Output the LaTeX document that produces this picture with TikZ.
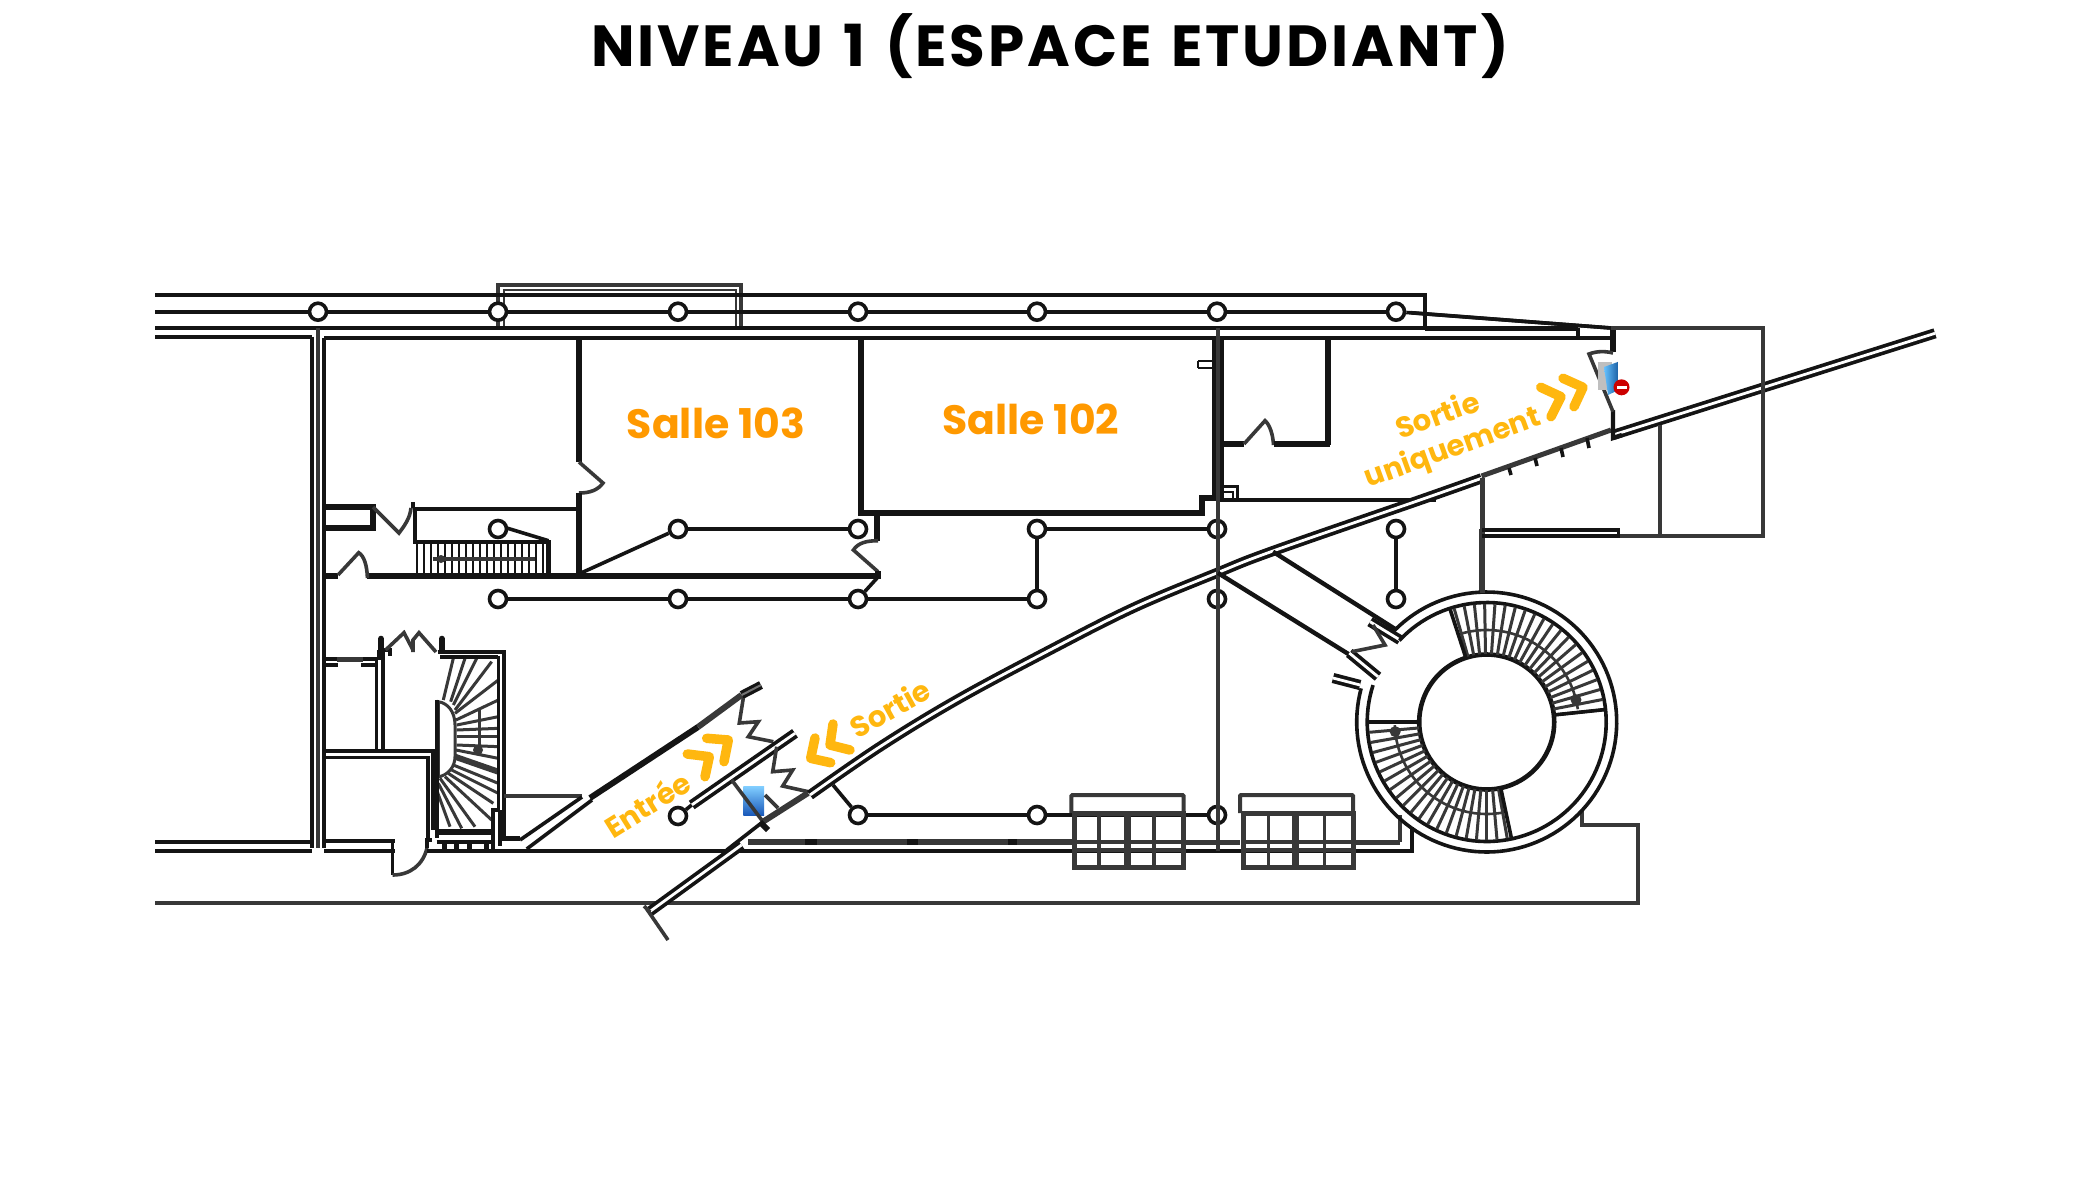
\documentclass[tikz,border=0pt]{standalone}
\usepackage{fontspec}
\newfontfamily\pop{Poppins}
\newfontfamily\popt{Poppins}[LetterSpace=5,WordSpace=1.3]
\definecolor{ink}{HTML}{141414}
\definecolor{gry}{HTML}{383838}
\definecolor{orng}{HTML}{FF9900}
\definecolor{yell}{HTML}{FFB70F}
\tikzset{
  w3/.style={draw=ink,line width=3.6pt},
  w4/.style={draw=ink,line width=4.4pt},
  w5/.style={draw=ink,line width=6pt},
  g3/.style={draw=gry,line width=3.6pt},
  g4/.style={draw=gry,line width=5pt},
  thin2/.style={draw=ink,line width=2.6pt},
  dbl/.style={draw=ink,line width=3.7pt,double=white,double distance=2.8pt},
  post/.style={circle,draw=ink,line width=3.6pt,fill=white,minimum size=17pt,inner sep=0pt},
  hollow/.style={circle,draw=ink,line width=3.6pt,minimum size=17pt,inner sep=0pt},
  chev/.style={draw=yell,line width=9.5pt,line cap=round,line join=round},
  roomlabel/.style={text=orng,font=\pop\bfseries\fontsize{41}{48}\selectfont},
  yl/.style={text=yell,font=\pop\bfseries\fontsize{29}{34}\selectfont},
  titletext/.style={text=black,font=\popt\bfseries\fontsize{58}{62}\selectfont}
}
\begin{document}
\begin{tikzpicture}[x=1pt,y=-1pt,line cap=butt,line join=miter]
\useasboundingbox (0,0) rectangle (2100,1200);
\fill[white] (0,0) rectangle (2100,1200);
\node[titletext] (title) at (1050,46) {NIVEAU 1 (ESPACE ETUDIANT)};
% top box
\draw[g3] (498,328) -- (498,285) -- (741,285) -- (741,328);
\draw[g3,line width=2pt] (504,328) -- (504,290) -- (736,290) -- (736,328);
% top lines
\draw[w3] (155,295) -- (1425,295) -- (1425,328);
\draw[w3] (155,328) -- (1578,328);
\draw[w3] (155,336.7) -- (312,336.7);
\draw[w3] (324,337.7) -- (1611,337.7);
\draw[w3] (1578,328) -- (1578,338);
% top row of posts
\node[post] (a1) at (318,311.7) {};
\node[post] (a2) at (498,311.7) {};
\node[post] (a3) at (678,311.7) {};
\node[post] (a4) at (858,311.7) {};
\node[post] (a5) at (1037,311.7) {};
\node[post] (a6) at (1217,311.7) {};
\node[post] (a7) at (1396,311.7) {};
\coordinate (aL) at (155,311.7);
\coordinate (aR) at (1611,328);
\draw[w3] (aL) -- (a1); \draw[w3] (a1) -- (a2); \draw[w3] (a2) -- (a3); \draw[w3] (a3) -- (a4);
\draw[w3] (a4) -- (a5); \draw[w3] (a5) -- (a6); \draw[w3] (a6) -- (a7); \draw[w3] (a7) -- (aR);
% middle posts
\node[post] (b1) at (498,529) {};
\node[post] (b2) at (678,529) {};
\node[post] (b3) at (858,529) {};
\node[post] (b4) at (1037,529) {};
\node[post] (b5) at (1396,529) {};
\node[post] (c1) at (498,599) {};
\node[post] (c2) at (678,599) {};
\node[post] (c3) at (858,599) {};
\node[post] (c4) at (1037,599) {};
\node[post] (c5) at (1396,599) {};
\node[post] (d1) at (678,816) {};
\node[post] (d2) at (858,815) {};
\node[post] (d3) at (1037,815) {};
\draw[w3] (b2) -- (b3); \draw[w3] (c1) -- (c2); \draw[w3] (c2) -- (c3); \draw[w3] (c3) -- (c4);
\draw[w3] (b4) -- (c4); \draw[w3] (b5) -- (c5);
\draw[w3] (b4) -- (1209,529);
\draw[w3] (d2) -- (d3); \draw[w3] (d3) -- (1209,815);
\draw[w3] (833,785) -- (d2);
\draw[w3] (581,573) -- (b2);
% long walls left
\draw[w3] (312,336.7) -- (312,848);
\draw[g3] (318,328) -- (318,848);
\draw[w3] (324,337.7) -- (324,848);
% room walls
\draw[w5] (579,338) -- (579,462);
\draw[g3] (579,462) -- (603,483) .. controls (598,490) and (590,493) .. (579,493);
\draw[w5] (579,493) -- (579,575);
\draw[w5] (367,575.7) -- (878,575.7);
\draw[w5] (324,575.7) -- (338,575.7);
\draw[g3] (338,575) -- (358.7,552.7) .. controls (364,556) and (367,565) .. (367.4,578);
\draw[w5] (324,507) -- (373,507) -- (373,528) -- (324,528);
\draw[g3] (373,507) -- (399,533) .. controls (405,525) and (410,518) .. (411,508);
\draw[w4] (413,509) -- (579,509);
\draw[w5] (411,505) -- (415,505);
\draw[w4] (415,509) -- (415,541.7) -- (548.5,541.7) -- (548.5,573);
\draw[w3] (507.7,528.3) -- (548.5,540.7);
% straight stair
\foreach \sx in {417,424,431,438,445,452,459,466,473,480,487,494,501,508,515,522,529,536,543}{
  \draw[thin2] (\sx,543) -- (\sx,573);}
\draw[g3] (432.6,559) -- (535,559);
\fill[gry] (441,559) circle[radius=4pt];
% room 102 etc
\draw[w5] (861,338) -- (861,512.7) -- (1202,512.7) -- (1202,497.7) -- (1216,497.7);
\draw[w5] (1214.5,338) -- (1214.5,498);
\draw[w3] (1222,338) -- (1222,499);
\draw[thin2] (1198,361) -- (1214,361) (1198,368) -- (1214,368) (1198,361) -- (1198,368);
\draw[w5] (1328,338) -- (1328,445);
\draw[w5] (1223,444) -- (1244,444);
\draw[g3] (1244,444) -- (1265,420.7) .. controls (1270,425) and (1273,435) .. (1273.5,445);
\draw[w5] (1273.5,444) -- (1330,444);
\draw[thin2] (1223,486.7) -- (1237.7,486.7) -- (1237.7,499.3);
\draw[thin2] (1223,492) -- (1233,492) -- (1233,499);
\draw[w3] (1219,500) -- (1436,500);
% door next to room 103 bottom
\draw[w5] (876.6,514) -- (876.6,540.7);
\draw[g3] (878,540.7) .. controls (866,540.7) and (858,543) .. (853.4,550) -- (878,571.7);
\draw[w5] (878,571) -- (878,579);
\draw[w3] (878,577) -- (c3);
% lower-left rooms
\draw[w3] (324,659) -- (337,659);
\draw[g4] (337,659) -- (363,659);
\draw[w3] (363,659) -- (377,659);
\draw[w3] (324,665) -- (338,665) (361,665) -- (377,665);
\draw[w3] (376.5,659) -- (376.5,751.7);
\draw[w3] (383,650) -- (383,751.7);
\draw[w3] (379,650) -- (379,660) (379,650) -- (390,650) -- (390,656);
\draw[w3] (324,751) -- (436.7,751);
\draw[w3] (324,757.5) -- (428,757.5) -- (428,840);
\draw[w3] (433,751) -- (433,830);
\draw[w3] (324,840.7) -- (395,840.7);
\draw[w3] (392.5,840.7) -- (392.5,875);
\draw[g3] (392.5,875) .. controls (410,875) and (423,865) .. (427,848);
\draw[w3] (427,848) -- (427,840) -- (432,840);
\draw[w5,line cap=round] (381,638.7) -- (381,650);
\draw[w5,line cap=round] (441.7,638.7) -- (441.7,650);
\draw[g3] (385.6,650) -- (404,632.7) -- (413,650) (413,652) -- (413,640) -- (419,632.7) -- (436,652);
% spiral stair, left
\foreach \ax/\ay/\ex/\ey in {
 92/215/135/85, 100/225/170/85, 105/240/215/95, 105/250/235/150, 108/270/235/210,
 110/285/235/260, 110/300/235/295, 110/320/235/320, 110/345/235/350, 108/360/235/385,
 100/405/235/460, 95/420/235/490, 85/430/220/520, 75/440/215/570, 60/445/165/590,
 55/460/125/595, 50/480/90/590}{
  \draw[g3,line width=3pt] ({420+\ax/3},{630+\ay/3}) -- ({420+\ex/3},{630+\ey/3});}
\draw[g3,line width=6pt] (455,756.7) -- (498.3,771.7);
\draw[g3,line width=3pt] (453.3,658.3) -- (443.3,700);
\draw[g3,line width=3pt,fill=white] (438.3,701.7) .. controls (448,703) and (455,712) .. (455,725) -- (455,756.7) .. controls (455,767) and (448,775) .. (438.3,777) -- cycle;
\draw[g3,line width=2.6pt] (479.3,708) -- (479.3,753);
\fill[gry] (478,750) circle[radius=5pt];
\draw[w3] (436.7,700) -- (436.7,838);
\draw[w4] (438,651.7) -- (504,651.7);
\draw[w3] (440,656.7) -- (498.3,656.7);
\draw[w3] (498.3,656) -- (498.3,810) -- (492.7,810) -- (492.7,850);
\draw[w3] (500,810) -- (500,846);
\draw[w4] (504,650) -- (504,838.3) -- (520,838.3);
\draw[w5] (436.7,832.3) -- (491.7,832.3);
\draw[w3] (436.7,841.7) -- (491.7,841.7);
\foreach \sx in {444,456,469,486.7}{\draw[w4,line width=5pt] (\sx,842) -- (\sx,850);}
% bottom lines
\draw[w3] (155,841.7) -- (312,841.7);
\draw[w3] (155,850.7) -- (312,850.7);
\draw[w3] (324,850.7) -- (395,850.7);
\draw[w3] (427,850.7) -- (1411.7,850.7) -- (1411.7,826.7);
\draw[g4,line width=5.5pt] (748,842) -- (1072,842);
\draw[w5] (805,842) -- (817,842) (906.7,842) -- (918,842) (1008,842) -- (1017,842);
\draw[g4] (1183,842) -- (1240,842) (1353,842) -- (1400,842);
\draw[g3] (1400,815) -- (1400,842);
% bottom outer
\draw[g3] (1581.7,810) -- (1581.7,825) -- (1638,825) -- (1638,903) -- (155,903);
% diagonal entry walls
\draw[g3] (504,795.7) -- (582,795.7);
\draw[w3] (520,840) -- (582,797);
\draw[w3] (526.7,849) -- (592,800);
\draw[w5] (590,798) -- (698,727);
\draw[g4,line width=6pt] (698,727) -- (741.5,695);
\draw[draw=ink,line width=3.2pt,double=gry!70,double distance=2pt] (741.7,695) -- (761,685);
\draw[g3] (743.3,698) -- (739.3,723) -- (758.3,721.7) -- (748.3,736.7) -- (773.3,741.7);
\draw[dbl] (691.7,805) -- (795,733.3);
\draw[w3] (d1) -- (691.7,805);
\draw[g3] (776.7,746.7) -- (772.7,771.7) -- (792.7,770) -- (782.7,786) -- (808.3,791.7);
% long curved wall
\draw[dbl] (649.6,911.7) -- (741.5,845);
\draw[w3] (726.7,850) -- (763,821.7);
\draw[g4,line width=6pt] (763,821.7) -- (808,793);
\draw[dbl] plot[smooth,tension=0.6] coordinates {(810,795) (880,746.7) (956.7,700) (1046.7,651.7) (1133,608) (1216.7,573) (1273,551) (1420,500) (1481.5,478.3)};
\draw[g4] (1481.5,476) -- (1611,430);
\draw[dbl] (1613,435) -- (1935,333.3);
\draw[w4] (1613,410) -- (1613,438) -- (1622,435);
\draw[g3] (650,912) -- (644,906) (646,908) -- (668,940);
\foreach \tx/\ty/\ux/\uy in {1509/468/1511/475,1535/458/1537/466,1561/448/1563/457,1587/438/1589/448}{
  \draw[w3] (\tx,\ty) -- (\ux,\uy);}
% vertical grey line through column 6
\node[hollow] (e1) at (1217,529) {};
\node[hollow] (e2) at (1217,599) {};
\node[hollow] (e3) at (1217,815) {};
\draw[g3,line width=4pt] (1218,328) -- (1218,851);
% stair corridor to the round stair
\draw[w4] (1273,551.7) -- (1396.7,630);
\draw[w4] (1218,573) -- (1350,655);
\draw[dbl] (1370,621.7) -- (1400,640);
\draw[dbl] (1349.3,653) -- (1378,676.7);
\draw[g3] (1373,625) -- (1385,645) -- (1351.7,651.7);
\draw[dbl] (1333,678) -- (1360,685);
% round stair
\def\cx{1486.7}\def\cy{722}
\draw[g4] (1481.7,529) -- (1481.7,592.7);
\draw[w3] plot[domain=-195:135,samples=120] ({\cx+130*cos(\x)},{\cy-130*sin(\x)});
\draw[w3] plot[domain=-198:137,samples=120] ({\cx+119.5*cos(\x)},{\cy-119.5*sin(\x)});
\draw[w4,line width=4.6pt] plot[domain=0:360,samples=120] ({\cx+67.5*cos(\x)},{\cy-67.5*sin(\x)});
\foreach \a in {6,11,...,108}{
  \draw[g3,line width=3pt] ({\cx+68*cos(\a)},{\cy-68*sin(\a)}) -- ({\cx+118*cos(\a)},{\cy-118*sin(\a)});}
\foreach \a in {180,185,...,282}{
  \draw[g3,line width=3pt] ({\cx+68*cos(\a)},{\cy-68*sin(\a)}) -- ({\cx+118*cos(\a)},{\cy-118*sin(\a)});}
\draw[g3,line width=2.6pt] plot[domain=8:106,samples=40] ({\cx+92*cos(\x)},{\cy-92*sin(\x)});
\draw[g3,line width=2.6pt] plot[domain=182:280,samples=40] ({\cx+92*cos(\x)},{\cy-92*sin(\x)});
\draw[w3] ({\cx+68*cos(6)},{\cy-68*sin(6)}) -- ({\cx+118*cos(6)},{\cy-118*sin(6)});
\draw[w3] ({\cx+68*cos(108)},{\cy-68*sin(108)}) -- ({\cx+118*cos(108)},{\cy-118*sin(108)});
\draw[w3] ({\cx+68*cos(180)},{\cy-68*sin(180)}) -- ({\cx+118*cos(180)},{\cy-118*sin(180)});
\draw[w3] ({\cx+68*cos(282)},{\cy-68*sin(282)}) -- ({\cx+118*cos(282)},{\cy-118*sin(282)});
\fill[gry] ({\cx+92*cos(14)},{\cy-92*sin(14)}) circle[radius=5.5pt];
\fill[gry] ({\cx+92*cos(186)},{\cy-92*sin(186)}) circle[radius=5.5pt];
% window units
\foreach \lx/\rx/\mx/\ca/\cb in {1071.4/1183.6/1127.5/1099/1154,1240/1353/1295.4/1268.6/1324.6}{
  \draw[g4,line width=4pt,rounded corners=1pt] (\lx,813) -- (\lx,795) -- (\rx,795) -- (\rx,813);
  \draw[g4] (\lx+3,813) rectangle (\rx,867);
  \draw[g4,line width=6.5pt] (\mx,813) -- (\mx,867);
  \draw[g3] (\ca,813) -- (\ca,867) (\cb,813) -- (\cb,867);
  \draw[g3] (\lx+3,841.7) -- (\rx,841.7) (\lx+3,850) -- (\rx,850);
}
% right block
\draw[w3] (1411,312.7) -- (1611,328);
\draw[w3] (1425,329) -- (1578,329);
\draw[w3] (1578,338) -- (1613,338);
\draw[w5] (1613,328) -- (1613,352);
\draw[g3] (1611,328) -- (1763,328) -- (1763,536) -- (1618.5,536);
\draw[g3] (1660,425) -- (1660,536);
\draw[g4] (1482,478) -- (1482,593);
\draw[w3] (1482,530) -- (1618.5,530) -- (1618.5,536) -- (1482,536);
\draw[g3] (1613,353) .. controls (1605,351) and (1597,351) .. (1589,354) -- (1613,411.7);
% door icons
\fill[gray!50] (1598,362) rectangle (1612,390);
\shade[left color=blue!40!cyan!60,right color=blue!50!cyan!60!black!90] (1604,367) -- (1618.5,361.7) -- (1618.5,390) -- (1608,395) -- cycle;
\fill[red!80!black] (1621.5,387.3) circle[radius=8pt];
\fill[white] (1616.5,385.5) rectangle (1626.5,389);
\shade[top color=blue!40!cyan!50,bottom color=blue!60!cyan!70!black!90] (743.3,786.7) rectangle (764,815);
\draw[g3] (731.7,780) -- (763,821.7);
\draw[g3] (765,795) -- (778,808);
\draw[w5] (760,822) -- (768,830);
% chevrons
\draw[chev] (687.3,754) -- (709.3,756.7) -- (705,776.7);
\draw[chev] (706.7,738.3) -- (728.3,740) -- (724,761.7);
\draw[chev] (833,724) -- (830,745) -- (850,750);
\draw[chev] (815,738) -- (810.7,758.3) -- (830.7,762.7);
\draw[chev] (1540.7,387.3) -- (1561,396.7) -- (1551,416.7);
\draw[chev] (1563,378.3) -- (1583,387.3) -- (1574,406.7);
% labels
\node[roomlabel] (s103) at (716,423) {Salle 103};
\node[roomlabel] (s102) at (1031,419) {Salle 102};
\node[yl,rotate=32] (entree) at (647,804) {Entrée};
\node[yl,rotate=29] (sortie) at (890,708) {Sortie};
\node[yl,rotate=20] (sortie2) at (1437,414) {Sortie};
\node[yl,rotate=20] (uniq) at (1453,449) {uniquement};
\end{tikzpicture}
\end{document}
